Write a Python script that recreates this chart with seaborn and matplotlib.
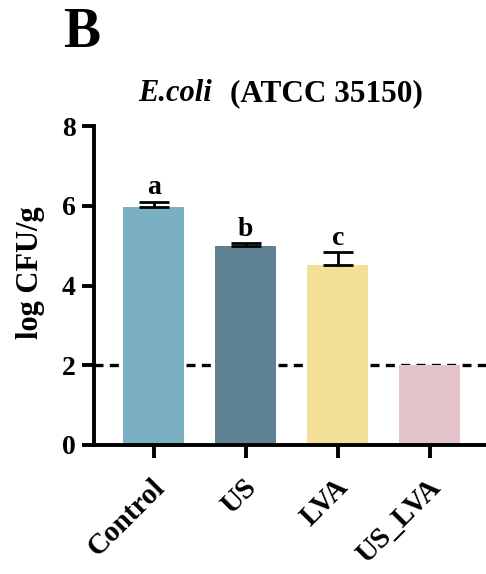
import numpy as np
import pandas as pd
import seaborn as sns
import matplotlib
matplotlib.use("Agg")
import matplotlib.pyplot as plt
import matplotlib.transforms as mtransforms

# Bacterial counts (log CFU/g) per treatment
groups = ["Control", "US", "LVA", "US_LVA"]
means = [5.97, 5.00, 4.52, 2.00]
sds = [0.13, 0.06, 0.31, 0.0]
letters = ["a", "b", "c", ""]
colors = ["#7BAFC2", "#5E8193", "#F3DF98", "#E3C4CA"]
detection_limit = 2.0
yticks = [0, 2, 4, 6, 8]

sns.set_theme(style="ticks")
plt.rcParams["font.family"] = ["Liberation Serif", "DejaVu Serif"]
plt.rcParams["font.weight"] = "bold"
for key in ["text.color", "axes.labelcolor", "xtick.color", "ytick.color",
            "axes.edgecolor"]:
    plt.rcParams[key] = "black"

df = pd.DataFrame({"group": groups, "mean": means, "sd": sds})

fig = plt.figure(figsize=(4.86, 5.74), dpi=100)
ax = fig.add_axes([94 / 486, 1 - 445 / 574, 392 / 486, 319 / 574])

# detection limit line sits behind the bars
ax.axhline(detection_limit, color="black", lw=2.4, ls=(0, (2.7, 1.9)), zorder=0.5)

sns.barplot(data=df, x="group", y="mean", hue="group", palette=colors,
            width=0.665, errorbar=None, legend=False, ax=ax,
            saturation=1, zorder=2, linewidth=0)

# one-sided (upper) SD error bars, only where there is spread
x = np.arange(len(groups))
has_err = np.array(sds) > 0
ax.errorbar(x[has_err], np.array(means)[has_err],
            yerr=[np.zeros(has_err.sum()), np.array(sds)[has_err]], fmt="none",
            ecolor="black", elinewidth=2.0, capsize=11, capthick=2.0, zorder=3)

for xi, m, s, lab in zip(x, means, sds, letters):
    if lab:
        ax.annotate(lab, (xi, m + s), xytext=(0, 1.0), textcoords="offset points",
                    ha="center", va="bottom", fontsize=20, fontweight="bold")

ax.set_xlim(-0.648, 3.61)
ax.set_ylim(0, 8)
ax.set_yticks(yticks)
ax.set_yticklabels([str(t) for t in yticks])
ax.set_xlabel("")
ax.set_ylabel("log CFU/g", fontsize=22, fontweight="bold", labelpad=12)
ax.yaxis.label.set_y(0.54)

for side in ["top", "right"]:
    ax.spines[side].set_visible(False)
for side in ["left", "bottom"]:
    ax.spines[side].set_linewidth(2.8)
    ax.spines[side].set_color("black")

ax.tick_params(axis="both", width=2.8, length=9, color="black",
               labelsize=20, pad=4)
ax.tick_params(axis="x", labelsize=21, pad=3)
offset = mtransforms.ScaledTranslation(-3 / 100, -12 / 100, fig.dpi_scale_trans)
for lbl in ax.get_xticklabels():
    lbl.set_rotation(45)
    lbl.set_ha("right")
    lbl.set_rotation_mode("anchor")
    lbl.set_fontweight("bold")
    lbl.set_transform(lbl.get_transform() + offset)
for lbl in ax.get_yticklabels():
    lbl.set_fontweight("bold")

# panel letter and title
fig.text(63 / 486, 1 - 47 / 574, "B", fontsize=40, fontweight="bold",
         ha="left", va="baseline")
fig.text(138 / 486, 1 - 101 / 574, "E.coli", fontsize=22, fontweight="bold",
         fontstyle="italic", ha="left", va="baseline")
fig.text(230 / 486, 1 - 101 / 574, "(ATCC 35150)", fontsize=22.5, fontweight="bold",
         ha="left", va="baseline")

fig.savefig("out.png", dpi=100)
